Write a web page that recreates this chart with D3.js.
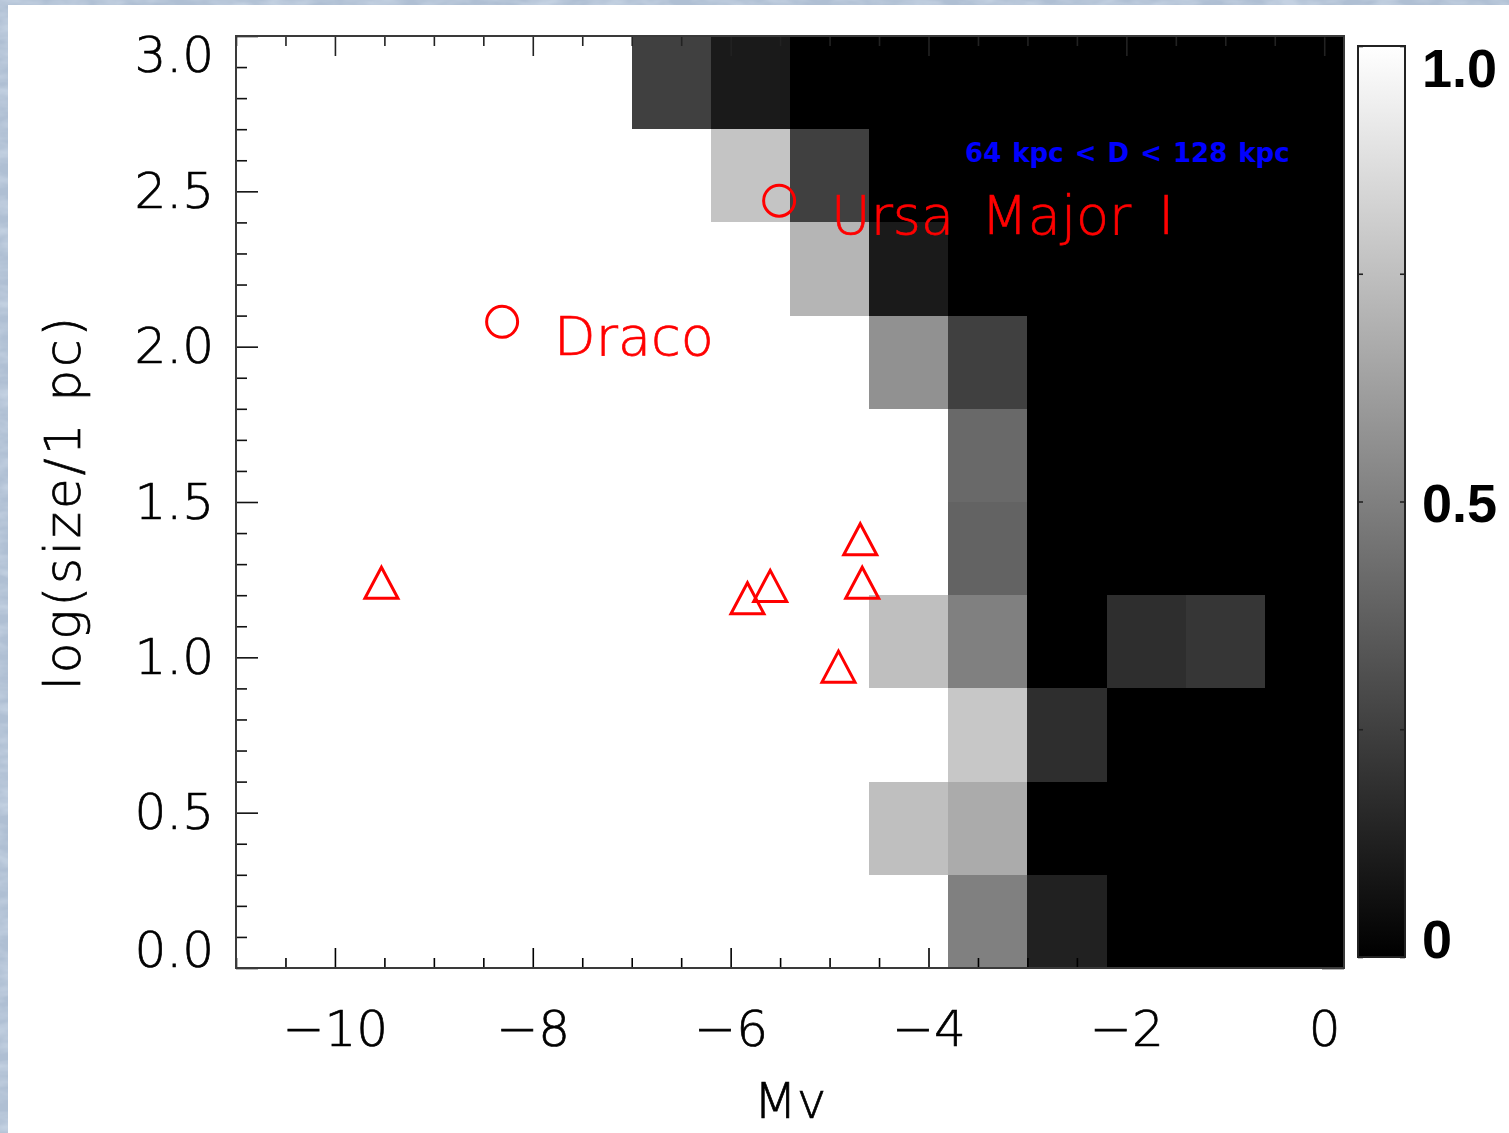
<!DOCTYPE html>
<html>
<head>
<meta charset="utf-8">
<script src="https://cdn.jsdelivr.net/npm/d3@7"></script>
<style>
  html, body { margin: 0; padding: 0; background: #fff; }
  svg { display: block; }
</style>
</head>
<body>
<svg id="chart" width="1509" height="1133"></svg>
<script>
// Absolute magnitude bins (lower edges), width 0.8 mag
const mvBinStart = [-11.0, -10.2, -9.4, -8.6, -7.8, -7.0, -6.2, -5.4, -4.6, -3.8, -3.0, -2.2, -1.4, -0.6];
const mvBinWidth = 0.8;
// log(size/pc) bins (lower edges), width 0.3 dex
const sizeBinStart = [0.0, 0.3, 0.6, 0.9, 1.2, 1.5, 1.8, 2.1, 2.4, 2.7];
const sizeBinWidth = 0.3;

// Detection fraction in each bin, one row per size bin (bottom to top)
const fracRow0 = [1, 1, 1, 1, 1, 1, 1, 1, 1, 0.50, 0.13, 0, 0, 0];
const fracRow1 = [1, 1, 1, 1, 1, 1, 1, 1, 0.75, 0.67, 0, 0, 0, 0];
const fracRow2 = [1, 1, 1, 1, 1, 1, 1, 1, 1, 0.78, 0.18, 0, 0, 0];
const fracRow3 = [1, 1, 1, 1, 1, 1, 1, 1, 0.75, 0.50, 0, 0.18, 0.21, 0];
const fracRow4 = [1, 1, 1, 1, 1, 1, 1, 1, 1, 0.39, 0, 0, 0, 0];
const fracRow5 = [1, 1, 1, 1, 1, 1, 1, 1, 1, 0.41, 0, 0, 0, 0];
const fracRow6 = [1, 1, 1, 1, 1, 1, 1, 1, 0.57, 0.25, 0, 0, 0, 0];
const fracRow7 = [1, 1, 1, 1, 1, 1, 1, 0.71, 0.10, 0, 0, 0, 0, 0];
const fracRow8 = [1, 1, 1, 1, 1, 1, 0.77, 0.25, 0, 0, 0, 0, 0, 0];
const fracRow9 = [1, 1, 1, 1, 1, 0.25, 0.10, 0, 0, 0, 0, 0, 0, 0];
const fraction = [fracRow0, fracRow1, fracRow2, fracRow3, fracRow4,
                  fracRow5, fracRow6, fracRow7, fracRow8, fracRow9];

// Known satellites (triangles)
const satMv   = [-9.53, -5.83, -5.60, -4.69, -4.67, -4.91];
const satSize = [1.24, 1.19, 1.23, 1.38, 1.24, 0.97];

// Highlighted galaxies (circles with names)
const namedName = ["Draco", "Ursa Major I"];
const namedMv   = [-8.31, -5.51];
const namedSize = [2.08, 2.47];

// Axis ticks
const xMajorTicks = [-10, -8, -6, -4, -2, 0];
const yMajorTicks = [0.0, 0.5, 1.0, 1.5, 2.0, 2.5, 3.0];
const cbTicks = [0, 0.25, 0.5, 0.75, 1];
const cbLabels = ["0", "0.5", "1.0"];
const cbLabelValues = [0, 0.5, 1];

const svg = d3.select("#chart");
const W = 1509, H = 1133;

// Textured frame around the page
const defs = svg.append("defs");
const tex = defs.append("filter").attr("id", "frameTex")
  .attr("x", 0).attr("y", 0).attr("width", "100%").attr("height", "100%");
tex.append("feTurbulence").attr("type", "fractalNoise")
  .attr("baseFrequency", "0.03 0.08").attr("numOctaves", 3).attr("seed", 7).attr("result", "noise");
tex.append("feColorMatrix").attr("in", "noise").attr("type", "matrix")
  .attr("values", "0 0 0 0 0.55  0 0 0 0 0.64  0 0 0 0 0.76  2.2 0 0 0 -0.8")
  .attr("result", "tint");
tex.append("feComposite").attr("in", "tint").attr("in2", "SourceGraphic").attr("operator", "atop");

svg.append("rect").attr("width", W).attr("height", H).attr("fill", "#afbfd3");
svg.append("rect").attr("width", W).attr("height", H).attr("fill", "#afbfd3")
  .attr("filter", "url(#frameTex)");
svg.append("rect").attr("x", 8).attr("y", 5).attr("width", W - 8).attr("height", H - 5).attr("fill", "#fff");

// Plot region
const x = d3.scaleLinear().domain([-11.0, 0.2]).range([236, 1344]);
const y = d3.scaleLinear().domain([0, 3]).range([968, 36]);
const gray = d3.scaleLinear().domain([0, 1]).range(["#000000", "#ffffff"]);

// Heat-map cells
const cells = [];
fraction.forEach((row, j) => row.forEach((v, i) => cells.push({
  mv0: mvBinStart[i], s0: sizeBinStart[j], v
})));
svg.append("g").attr("shape-rendering", "crispEdges")
  .selectAll("rect").data(cells).join("rect")
  .attr("x", d => x(d.mv0))
  .attr("y", d => y(d.s0 + sizeBinWidth))
  .attr("width", d => x(d.mv0 + mvBinWidth) - x(d.mv0))
  .attr("height", d => y(d.s0) - y(d.s0 + sizeBinWidth))
  .attr("fill", d => gray(d.v));

// Axes (ticks pointing inward)
const fontAxis = "'DejaVu Sans ExtraLight', 'DejaVu Sans', sans-serif";
const axisWeight = 200;
const xMinor = d3.range(-11, 0.21, 0.5).map(v => +v.toFixed(2)).filter(v => !xMajorTicks.includes(v));
const yMinor = d3.range(0, 3.001, 0.1).map(v => +v.toFixed(2)).filter(v => !yMajorTicks.some(t => Math.abs(t - v) < 1e-6));

function styleTicks(g, color) {
  g.select(".domain").remove();
  g.selectAll(".tick line").attr("stroke", color).attr("stroke-width", 1.6);
}
function lightText(sel, color) {
  sel.attr("font-family", fontAxis).attr("font-weight", axisWeight)
    .attr("fill", color).attr("stroke", color).attr("stroke-width", 0.7);
}

const xAxis = svg.append("g").attr("transform", `translate(0,${y(0)})`)
  .call(d3.axisBottom(x).tickValues(xMajorTicks).tickSize(-20).tickPadding(42)
    .tickFormat(d3.format("d")));
styleTicks(xAxis, "#000");
xAxis.selectAll("text").attr("font-size", 50).call(lightText, "#000");
svg.append("g").attr("transform", `translate(0,${y(0)})`)
  .call(d3.axisBottom(x).tickValues(xMinor).tickSize(-10).tickFormat(""))
  .call(g => styleTicks(g, "#000"));

const xTop = svg.append("g").attr("transform", `translate(0,${y(3)})`)
  .call(d3.axisTop(x).tickValues(xMajorTicks).tickSize(-20).tickFormat(""));
styleTicks(xTop, "#222");
svg.append("g").attr("transform", `translate(0,${y(3)})`)
  .call(d3.axisTop(x).tickValues(xMinor).tickSize(-10).tickFormat(""))
  .call(g => styleTicks(g, "#222"));

const yAxis = svg.append("g").attr("transform", `translate(${x(-11)},0)`)
  .call(d3.axisLeft(y).tickValues(yMajorTicks).tickSize(-22).tickPadding(22)
    .tickFormat(d3.format(".1f")));
styleTicks(yAxis, "#111");
yAxis.selectAll("text").attr("font-size", 50).call(lightText, "#000");
// keep the end labels inside the axis span
yAxis.selectAll(".tick").filter(d => d === 3).select("text").attr("dy", "0.7em");
yAxis.selectAll(".tick").filter(d => d === 0).select("text").attr("dy", "-0.03em");
svg.append("g").attr("transform", `translate(${x(-11)},0)`)
  .call(d3.axisLeft(y).tickValues(yMinor).tickSize(-11).tickFormat(""))
  .call(g => styleTicks(g, "#111"));

svg.append("g").attr("transform", `translate(${x(0.2)},0)`)
  .call(d3.axisRight(y).tickValues(yMajorTicks).tickSize(-22).tickFormat(""))
  .call(g => styleTicks(g, "#000"));
svg.append("g").attr("transform", `translate(${x(0.2)},0)`)
  .call(d3.axisRight(y).tickValues(yMinor).tickSize(-11).tickFormat(""))
  .call(g => styleTicks(g, "#000"));

// Frame
svg.append("rect")
  .attr("x", x(-11)).attr("y", y(3))
  .attr("width", x(0.2) - x(-11)).attr("height", y(0) - y(3))
  .attr("fill", "none").attr("stroke", "#3a3a3a").attr("stroke-width", 2);

// Axis titles
svg.append("text").attr("x", (x(-11) + x(0.2)) / 2).attr("y", 1118)
  .attr("text-anchor", "middle").attr("font-size", 50)
  .call(lightText, "#000")
  .text("Mv");
svg.append("text").attr("transform", `translate(80,${(y(0) + y(3)) / 2}) rotate(-90)`)
  .attr("text-anchor", "middle").attr("font-size", 50).attr("letter-spacing", 3)
  .call(lightText, "#000")
  .text("log(size/1 pc)");

// Distance-range note
svg.append("text").attr("x", x(-3.63)).attr("y", 162)
  .attr("font-family", "'DejaVu Sans', sans-serif").attr("font-weight", "bold").attr("font-size", 26)
  .attr("fill", "#0000ff").attr("word-spacing", 2)
  .text("64 kpc < D < 128 kpc");

// Satellites
const red = "#ff0000";
const tri = "M0,-15.5 L16.5,15.5 L-16.5,15.5 Z";
svg.append("g").selectAll("path").data(satMv.map((m, i) => [m, satSize[i]])).join("path")
  .attr("d", tri)
  .attr("transform", d => `translate(${x(d[0])},${y(d[1])})`)
  .attr("fill", "none").attr("stroke", red).attr("stroke-width", 3).attr("stroke-linejoin", "miter");

const named = namedName.map((n, i) => ({ n, mv: namedMv[i], s: namedSize[i] }));
svg.append("g").selectAll("circle").data(named).join("circle")
  .attr("cx", d => x(d.mv)).attr("cy", d => y(d.s)).attr("r", 15.5)
  .attr("fill", "none").attr("stroke", red).attr("stroke-width", 3);
svg.append("g").selectAll("text").data(named).join("text")
  .attr("x", d => x(d.mv) + 52).attr("y", d => y(d.s) + 33)
  .attr("font-size", 54).attr("word-spacing", 10)
  .call(lightText, red)
  .text(d => d.n);

// Colour bar
const cbX = 1358, cbW = 47;
const cb = d3.scaleLinear().domain([0, 1]).range([957, 46]);
const grad = defs.append("linearGradient").attr("id", "cbGrad")
  .attr("x1", 0).attr("y1", 1).attr("x2", 0).attr("y2", 0);
grad.append("stop").attr("offset", 0).attr("stop-color", gray(0));
grad.append("stop").attr("offset", 1).attr("stop-color", gray(1));
svg.append("rect").attr("x", cbX).attr("y", cb(1)).attr("width", cbW).attr("height", cb(0) - cb(1))
  .attr("fill", "url(#cbGrad)").attr("stroke", "#222").attr("stroke-width", 2);
svg.append("g").attr("transform", `translate(${cbX},0)`)
  .call(d3.axisLeft(cb).tickValues(cbTicks).tickSize(-5).tickFormat(""))
  .call(g => styleTicks(g, "#222"));
svg.append("g").attr("transform", `translate(${cbX + cbW},0)`)
  .call(d3.axisRight(cb).tickValues(cbTicks).tickSize(-5).tickFormat(""))
  .call(g => styleTicks(g, "#222"));
svg.append("g").selectAll("text").data(cbLabels).join("text")
  .attr("x", 1422)
  .attr("y", (d, i) => {
    const v = cbLabelValues[i];
    return v === 1 ? cb(1) + 41 : v === 0 ? cb(0) + 1 : cb(v) + 20;
  })
  .attr("font-family", "'Liberation Sans', Arial, sans-serif").attr("font-weight", "bold")
  .attr("font-size", 54).attr("fill", "#000")
  .text(d => d);
</script>
</body>
</html>
